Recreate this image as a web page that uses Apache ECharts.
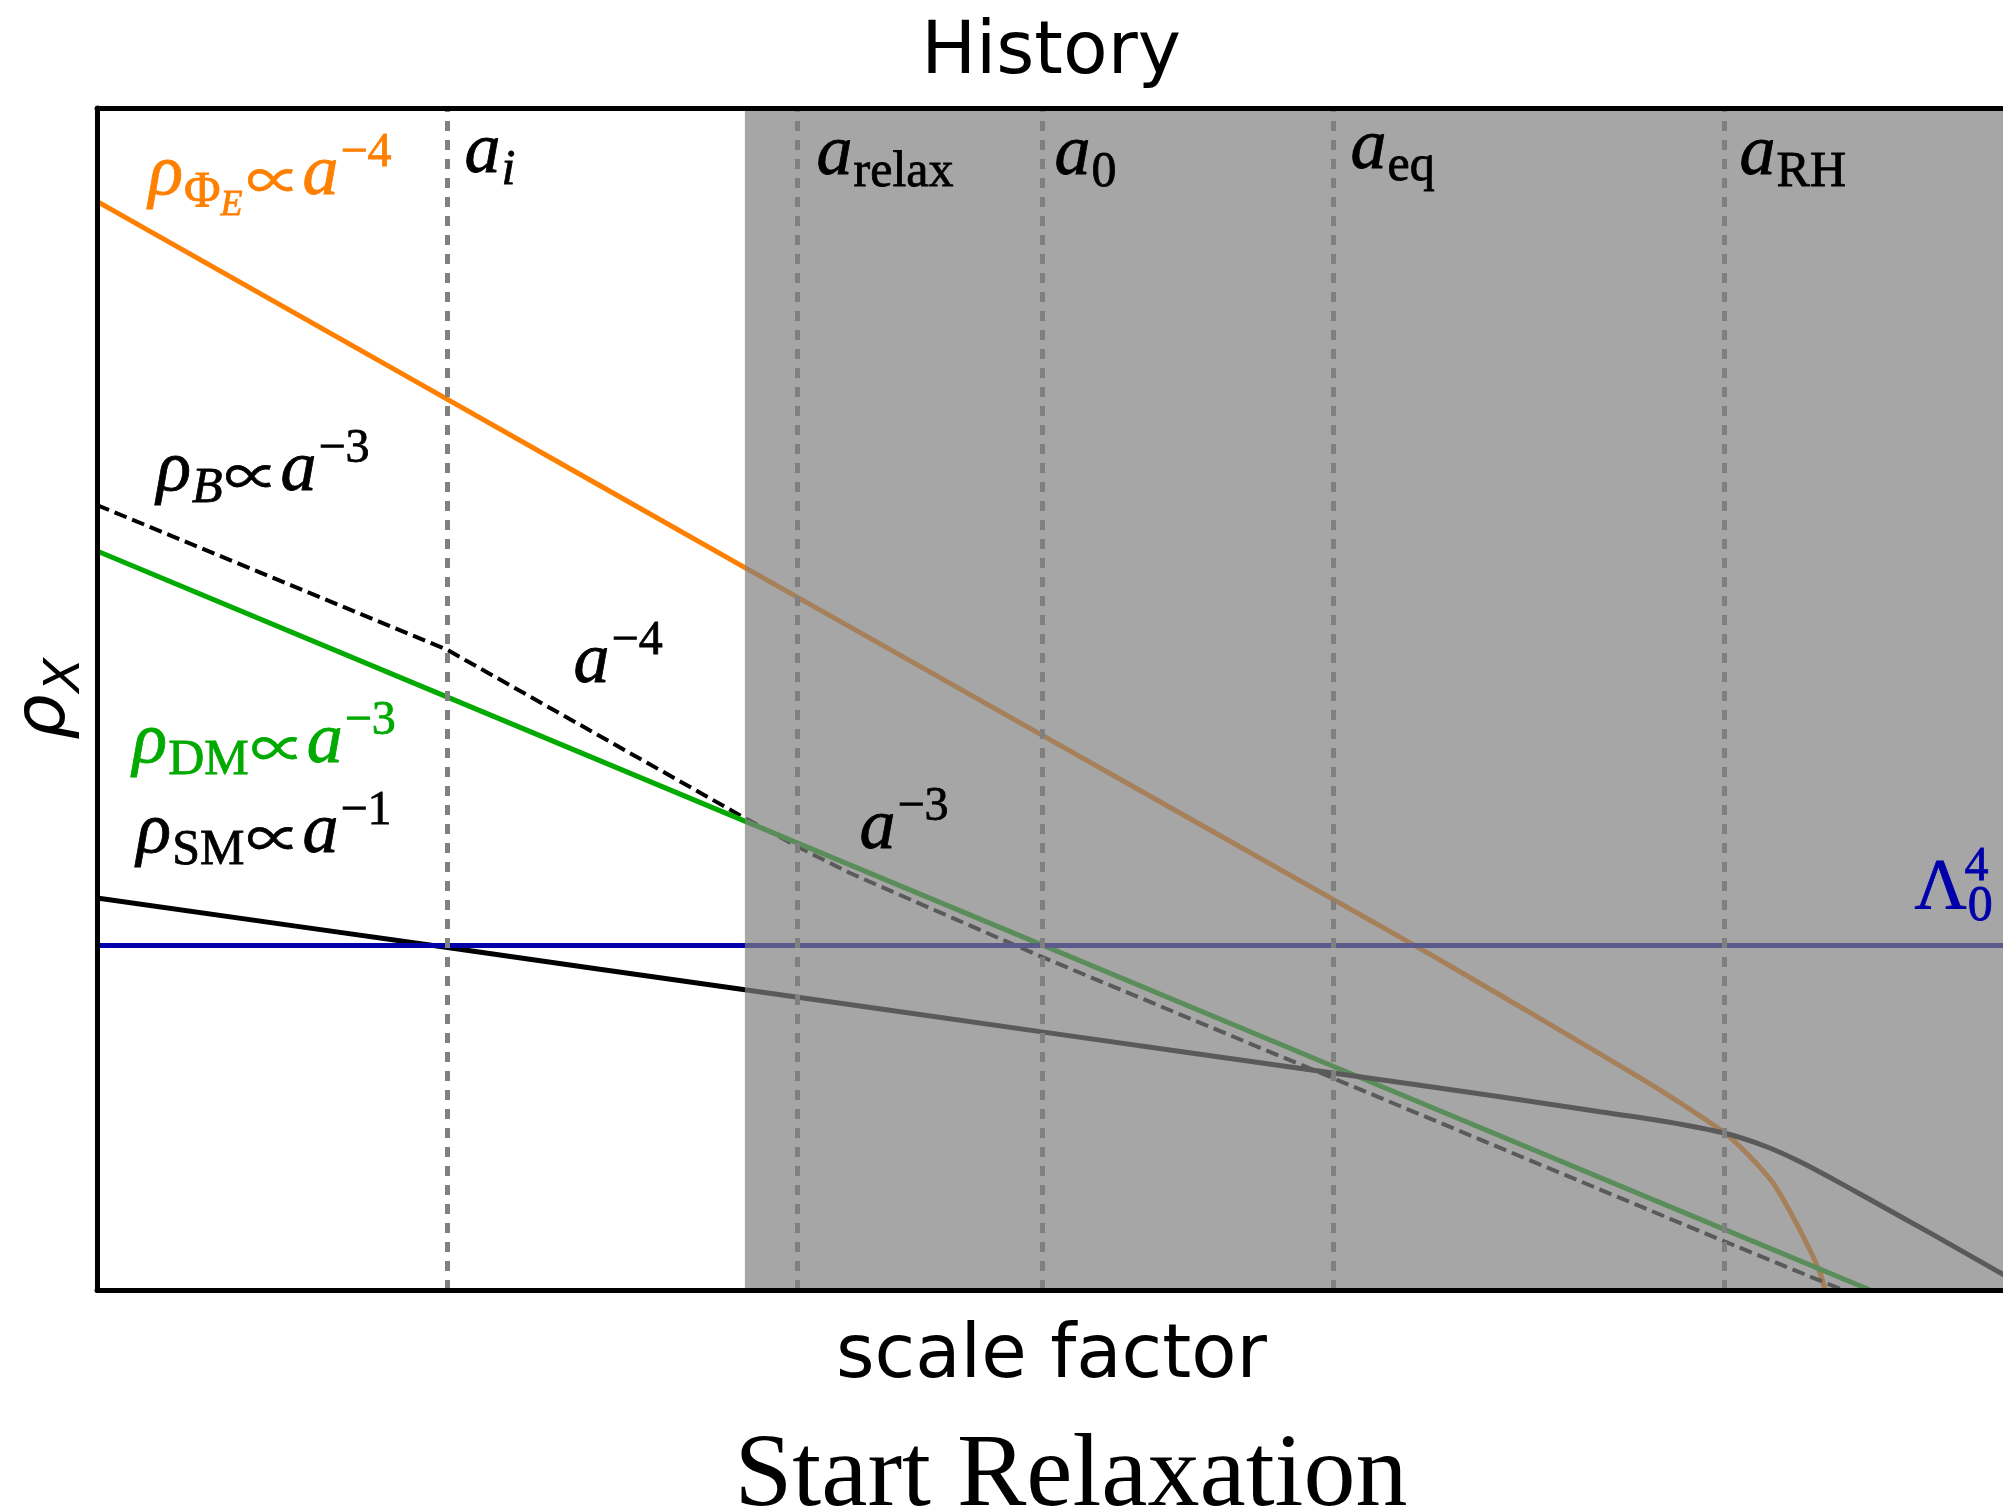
<!DOCTYPE html>
<html>
<head>
<meta charset="utf-8">
<script src="https://cdn.jsdelivr.net/npm/echarts@6/dist/echarts.min.js"></script>
<style>
html,body{margin:0;padding:0;background:#fff;}
#chart{width:2003px;height:1511px;}
</style>
</head>
<body>
<div id="chart"></div>
<script>
// ---- data (x: log scale factor, arbitrary units 0..100; y: log density, arbitrary units 0..100) ----
const orangeX = [0, 18.36, 33.94, 49.50, 64.75, 69.04, 73.49, 78.73, 82.23, 85.28, 86.59, 87.80, 88.84, 89.73, 90.26, 90.52, 90.62];
const orangeY = [92.10, 75.35, 61.12, 46.94, 33.05, 29.13, 24.96, 19.97, 16.55, 13.26, 11.28, 9.05, 6.18, 3.38, 1.44, 0, -1];

const dmX = [0, 18.36, 33.94, 49.50, 64.75, 85.28, 92.88];
const dmY = [62.52, 50.16, 39.67, 29.20, 18.93, 5.11, 0];

const baryonX = [0, 18.36, 33.94, 36.83, 39.44, 42.06, 49.50, 64.75, 85.28, 91.46];
const baryonY = [66.41, 54.15, 39.93, 37.39, 35.28, 33.42, 28.18, 17.92, 4.09, 0];

const smX = [0, 18.36, 33.94, 49.50, 64.75, 73.49, 78.73, 82.23, 85.28, 87.46, 89.21, 90.94, 92.71, 96.18, 100];
const smY = [33.16, 28.97, 25.40, 21.84, 18.36, 16.35, 15.08, 14.24, 13.26, 12.12, 10.85, 9.38, 7.80, 4.68, 1.17];

const lambdaX = [0, 100];
const lambdaY = [29.15, 29.15];

// epochs: a_i, a_relax, a_0, a_eq, a_RH
const epochNames = ['a_i', 'a_relax', 'a_0', 'a_eq', 'a_RH'];
const epochX = [18.36, 36.67, 49.50, 64.75, 85.25];
const shadeStart = 33.94;
const shadeEnd = 100;

function pairs(xs, ys) { return xs.map((x, i) => [x, ys[i]]); }

// ---- annotations (anchor = top-left of the text block, in data units) ----
const ORANGE = '#ff8000', GREEN = '#00aa00', BLUE = '#0000aa', BLACK = '#000000';
const annotations = [
  { x: 2.72,  y: 98.82,  text: '{m|ρ}{s|Φ}{ss|E}{pr|∝}{m|a}{p|−4}', color: ORANGE },
  { x: 19.28, y: 100.68, text: '{m|a}{si|i}', color: BLACK },
  { x: 3.14,  y: 73.77,  text: '{m|ρ}{si|B}{pr|∝}{m|a}{p|−3}', color: BLACK },
  { x: 24.99, y: 57.53,  text: '{m|a}{p|−4}', color: BLACK },
  { x: 1.89,  y: 50.76,  text: '{m|ρ}{s|DM}{pr|∝}{m|a}{p|−3}', color: GREEN },
  { x: 2.10,  y: 43.15,  text: '{m|ρ}{s|SM}{pr|∝}{m|a}{p|−1}', color: BLACK },
  { x: 39.97, y: 43.49,  text: '{m|a}{p|−3}', color: BLACK },
  { x: 95.23, y: 38.41,  text: '{mr|Λ}{s|0}', color: BLUE },
  { x: 97.75, y: 38.41,  text: '{p|4}', color: BLUE },
  { x: 37.72, y: 100.51, text: '{m|a}{s|relax}', color: BLACK },
  { x: 50.18, y: 100.51, text: '{m|a}{s|0}', color: BLACK },
  { x: 65.69, y: 101.02, text: '{m|a}{s|eq}', color: BLACK },
  { x: 86.07, y: 100.51, text: '{m|a}{s|RH}', color: BLACK }
];

const SERIF = 'Liberation Serif';
const rich = {
  m:  { fontFamily: SERIF, fontStyle: 'italic', fontSize: 72, lineHeight: 72, verticalAlign: 'top', padding: [18, 0, 0, 0] },
  mr: { fontFamily: SERIF, fontStyle: 'normal', fontSize: 72, lineHeight: 72, verticalAlign: 'top', padding: [18, 0, 0, 0] },
  s:  { fontFamily: SERIF, fontStyle: 'normal', fontSize: 50, lineHeight: 50, verticalAlign: 'top', padding: [46, 0, 0, 1] },
  si: { fontFamily: SERIF, fontStyle: 'italic', fontSize: 50, lineHeight: 50, verticalAlign: 'top', padding: [46, 0, 0, 1] },
  ss: { fontFamily: SERIF, fontStyle: 'italic', fontSize: 36, lineHeight: 36, verticalAlign: 'top', padding: [66, 2, 0, 0] },
  pr: { fontFamily: 'Noto Sans CJK SC', fontStyle: 'normal', fontSize: 54, lineHeight: 54, verticalAlign: 'top', padding: [32, 2, 0, 2] },
  p:  { fontFamily: SERIF, fontStyle: 'normal', fontSize: 48, lineHeight: 48, verticalAlign: 'top', padding: [8, 0, 0, 2] }
};

const chart = echarts.init(document.getElementById('chart'), null, { renderer: 'canvas' });

const axisLineStyle = { color: '#000', width: 5 };
const hiddenAxisParts = {
  axisTick: { show: false },
  axisLabel: { show: false },
  splitLine: { show: false }
};

const option = {
  animation: false,
  backgroundColor: '#ffffff',
  title: [
    { text: 'History', left: 1051, top: 18, textAlign: 'center', padding: 0,
      textStyle: { fontFamily: 'DejaVu Sans', fontSize: 73, fontWeight: 'normal', color: '#000' } },
    { text: 'Start Relaxation', left: 1071, top: 1426, textAlign: 'center', padding: 0,
      textStyle: { fontFamily: SERIF, fontSize: 104, fontWeight: 'normal', color: '#000' } }
  ],
  grid: { left: 97, top: 108, right: -3, bottom: 221, outerBoundsMode: 'none', containLabel: false },
  xAxis: [
    Object.assign({
      type: 'value', min: 0, max: 100, position: 'bottom', z: 10,
      axisLine: { show: true, onZero: false, lineStyle: axisLineStyle },
      name: 'scale factor', nameLocation: 'middle', nameGap: 31,
      nameTextStyle: { fontFamily: 'DejaVu Sans', fontSize: 74, color: '#000' }
    }, hiddenAxisParts),
    Object.assign({
      type: 'value', min: 0, max: 100, position: 'top', z: 10,
      axisLine: { show: true, onZero: false, lineStyle: axisLineStyle }
    }, hiddenAxisParts)
  ],
  yAxis: [
    Object.assign({
      type: 'value', min: 0, max: 100, position: 'left', z: 10,
      axisLine: { show: true, onZero: false, lineStyle: axisLineStyle },
      name: '{r|ρ}{x|X}', nameLocation: 'middle', nameRotate: 90, nameGap: 16,
      nameTextStyle: {
        color: '#000',
        rich: {
          r: { fontFamily: 'DejaVu Sans', fontStyle: 'italic', fontSize: 72, lineHeight: 72, verticalAlign: 'top', padding: [0, 0, 0, 0] },
          x: { fontFamily: 'DejaVu Sans', fontStyle: 'italic', fontSize: 50, lineHeight: 50, verticalAlign: 'top', padding: [32, 0, 0, 2] }
        }
      }
    }, hiddenAxisParts)
  ],
  series: [
    { name: 'rho_PhiE', type: 'line', z: 2, showSymbol: false, symbol: 'none', silent: true,
      smooth: 0.3,
      lineStyle: { color: ORANGE, width: 5 }, data: pairs(orangeX, orangeY) },
    { name: 'rho_B', type: 'line', z: 2, showSymbol: false, symbol: 'none', silent: true,
      lineStyle: { color: BLACK, width: 4, type: [13, 6] }, data: pairs(baryonX, baryonY) },
    { name: 'rho_DM', type: 'line', z: 2, showSymbol: false, symbol: 'none', silent: true,
      lineStyle: { color: GREEN, width: 5 }, data: pairs(dmX, dmY) },
    { name: 'rho_SM', type: 'line', z: 2, showSymbol: false, symbol: 'none', silent: true,
      smooth: 0.3,
      lineStyle: { color: BLACK, width: 5 }, data: pairs(smX, smY) },
    { name: 'Lambda0^4', type: 'line', z: 2, showSymbol: false, symbol: 'none', silent: true,
      lineStyle: { color: BLUE, width: 5 }, data: pairs(lambdaX, lambdaY) },
    { name: 'relaxation shading', type: 'line', z: 3, data: [], silent: true,
      markArea: { z: 3, silent: true, itemStyle: { color: 'rgba(128,128,128,0.7)' },
        data: [[{ xAxis: shadeStart }, { xAxis: shadeEnd }]] } },
    { name: 'epochs', type: 'line', z: 4, data: [], silent: true,
      markLine: { z: 4, silent: true, symbol: ['none', 'none'], label: { show: false },
        lineStyle: { color: '#808080', width: 5, type: [10, 9] },
        data: epochX.map((v, i) => ({ name: epochNames[i], xAxis: v })) } },
    { name: 'annotations', type: 'scatter', z: 6, silent: true, clip: false,
      symbol: 'circle', symbolSize: 1, itemStyle: { color: 'rgba(0,0,0,0)' },
      data: annotations.map(a => ({
        value: [a.x, a.y],
        label: { show: true, formatter: a.text, color: a.color, position: [0, 0],
          align: 'left', verticalAlign: 'top', opacity: 1,
          textBorderColor: a.color, textBorderWidth: 0.8, rich: rich }
      })) }
  ]
};
chart.setOption(option);
</script>
</body>
</html>
